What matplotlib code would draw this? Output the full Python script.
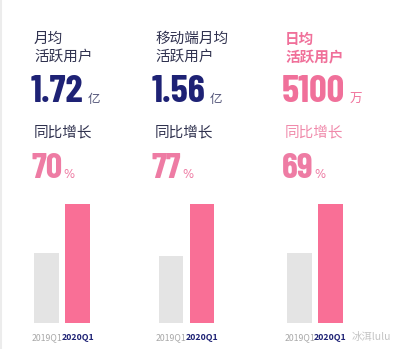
import matplotlib
matplotlib.use("Agg")
from matplotlib import pyplot as plt
from matplotlib import font_manager

# data
titles = [["月均", "活跃用户"], ["移动端月均", "活跃用户"], ["日均", "活跃用户"]]
values = ["1.72", "1.56", "5100"]
units = ["亿", "亿", "万"]
growth = ["70", "77", "69"]
categories = ["2019Q1", "2020Q1"]
bars_2019 = [1.01, 0.88, 3018]
bars_2020 = [1.72, 1.56, 5100]

W, H = 400, 349
NAVY = "#1e2275"
DARK = "#30324f"
PINK = "#f96f96"
PINK_TXT = "#ee7ca4"
GRAY = "#e4e4e4"
CJK = ["Noto Sans CJK SC", "DejaVu Sans"]

names = {f.name for f in font_manager.fontManager.ttflist}
NUMFONT = "DejaVu Sans"
for cand in ["Barlow Condensed", "Roboto Condensed", "Oswald", "Liberation Sans Narrow"]:
    if cand in names:
        NUMFONT = cand
        break

fig = plt.figure(figsize=(W / 100, H / 100), dpi=100)
fig.patch.set_facecolor("white")
renderer = fig.canvas.get_renderer()


def fx(x):
    return x / W


def fy(y):
    return 1 - y / H


def right_px(t):
    return t.get_window_extent(renderer).x1


lefts = [34, 155, 285]
title_col = [DARK, DARK, "#f0709a"]
title_wt = ["normal", "normal", "bold"]
num_col = [NAVY, NAVY, "#f0709a"]
unit_col = ["#55577a", "#55577a", "#f0709a"]
grow_lbl_col = [DARK, DARK, "#f08aab"]

for i in range(3):
    x0 = lefts[i]
    fig.text(fx(x0), fy(39), titles[i][0], family=CJK, fontsize=10.5,
             fontweight=title_wt[i], color=title_col[i], va="center", ha="left")
    fig.text(fx(x0), fy(57), titles[i][1], family=CJK, fontsize=10.5,
             fontweight=title_wt[i], color=title_col[i], va="center", ha="left")
    t = fig.text(fx(x0 - 3), fy(102), values[i], family=NUMFONT, fontsize=28,
                 fontweight="bold", color=num_col[i], va="baseline", ha="left")
    fig.text(fx(right_px(t) + 4), fy(103), units[i], family=CJK, fontsize=9,
             color=unit_col[i], va="baseline", ha="left")
    fig.text(fx(x0), fy(132), "同比增长", family=CJK, fontsize=10.5,
             color=grow_lbl_col[i], va="center", ha="left")
    g = fig.text(fx(x0 - 3), fy(178), growth[i], family=NUMFONT, fontsize=26,
                 fontweight="bold", color=PINK_TXT, va="baseline", ha="left")
    fig.text(fx(right_px(g) + 1), fy(178), "%", family="DejaVu Sans", fontsize=8.5,
             color=PINK_TXT, va="baseline", ha="left")

# bar panels
centers = [46.5, 171.0, 299.5]
for i in range(3):
    left = centers[i] - 15.5
    ax = fig.add_axes([fx(left), fy(323), 62 / W, 119 / H])
    ax.bar([0, 1], [bars_2019[i], bars_2020[i]], width=0.8, color=[GRAY, PINK])
    ax.set_xlim(-0.5, 1.5)
    ax.set_ylim(0, bars_2020[i])
    ax.set_yticks([])
    ax.set_xticks([0, 1])
    ax.set_xticklabels(categories, family=CJK, fontsize=6.3)
    ax.get_xticklabels()[0].set_color("#a8a8a8")
    ax.get_xticklabels()[1].set_color(NAVY)
    ax.get_xticklabels()[1].set_fontweight("bold")
    ax.tick_params(axis="x", length=0, pad=7)
    for s in ax.spines.values():
        s.set_visible(False)
    ax.patch.set_alpha(0)

# faint left edge line and watermark
fig.add_artist(plt.Line2D([fx(1), fx(1)], [0, 1], color="#ececec", lw=1.5))
fig.text(fx(352), fy(337), "冰洱lulu", family=CJK, fontsize=7.5,
         color="#c4c4c4", va="center", ha="left")

fig.savefig("out.png", dpi=100, facecolor="white")
